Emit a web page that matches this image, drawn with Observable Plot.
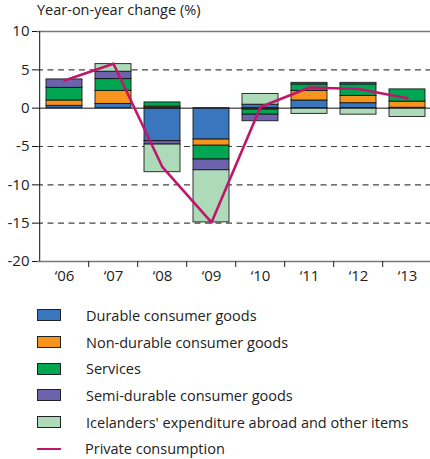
<!DOCTYPE html>
<html>
<head>
<meta charset="utf-8">
<script src="https://cdn.jsdelivr.net/npm/d3@7"></script>
<script src="https://cdn.jsdelivr.net/npm/@observablehq/plot@0.6"></script>
<style>
  html, body { margin: 0; padding: 0; background: #fff; width: 430px; height: 459px; overflow: hidden; }
  body { font-family: "Open Sans", "DejaVu Sans", sans-serif; color: #222; }
  #title { height: 22px; font-size: 14.5px; line-height: 20px; padding-left: 37px; white-space: nowrap; }
  #chart svg { display: block; overflow: visible; }
  #legend { margin-top: 14px; }
  .row { height: 26.7px; display: flex; align-items: center; font-size: 14.5px; white-space: nowrap; }
  .sw { width: 22px; height: 10px; margin-left: 37px; margin-right: 25px; border: 1px solid #222; box-sizing: content-box; }
  .ln { width: 24px; height: 2.5px; margin-left: 37px; margin-right: 24px; }
</style>
</head>
<body>
<div id="title">Year-on-year change (%)</div>
<div id="chart"></div>
<div id="legend"></div>
<script>
const years = ["2006", "2007", "2008", "2009", "2010", "2011", "2012", "2013"];
const seriesNames = [
  "Durable consumer goods",
  "Non-durable consumer goods",
  "Services",
  "Semi-durable consumer goods",
  "Icelanders' expenditure abroad and other items"
];
const seriesColors = ["#3a76bd", "#f7941d", "#00a651", "#6c63ac", "#addbb9"];
const durable      = [0.3, 0.55, -4.3, -4.1, 0.45, 1.0, 0.65, 0.05];
const nonDurable   = [0.7, 1.7, 0.2, -0.8, -0.2, 1.25, 0.95, 0.8];
const services     = [1.65, 1.55, 0.55, -1.8, -0.65, 0.85, 1.5, 1.6];
const semiDurable  = [1.1, 0.95, -0.45, -1.4, -0.85, 0.2, 0.2, 0];
const icelanders   = [0, 1.0, -3.6, -6.8, 1.4, -0.75, -0.85, -1.15];
const privateConsumption = [3.6, 5.8, -7.7, -14.9, 0.15, 2.7, 2.5, 1.3];
const lineName = "Private consumption";
const lineColor = "#c0166c";
const yTicks = [10, 5, 0, -5, -10, -15, -20];
const gridDashed = [5, -5, -10, -15];

const seriesValues = [durable, nonDurable, services, semiDurable, icelanders];
const rows = [];
seriesNames.forEach((name, i) => {
  years.forEach((yr, j) => rows.push({year: yr, series: name, value: seriesValues[i][j]}));
});
const lineRows = years.map((yr, j) => ({year: yr, value: privateConsumption[j]}));

const xRange = [37, 434];
const step = (xRange[1] - xRange[0]) / years.length;

const plot = Plot.plot({
  width: 430,
  height: 266,
  marginTop: 9,
  marginBottom: 27,
  marginLeft: 37,
  marginRight: 0,
  style: {fontFamily: "'Open Sans', sans-serif", fontSize: "14px", color: "#222", background: "transparent"},
  x: {domain: years, range: xRange, paddingInner: 0.27, paddingOuter: 0.135, label: null},
  y: {domain: [-20, 10], label: null},
  color: {domain: seriesNames, range: seriesColors},
  marks: [
    Plot.ruleY(gridDashed, {stroke: "#444", strokeWidth: 1.2, strokeDasharray: "6,4.5"}),
    Plot.ruleY([10, -20], {stroke: "#777", strokeWidth: 1.5}),
    Plot.barY(rows, {x: "year", y: "value", fill: "series", stroke: "#111", strokeWidth: 1, strokeOpacity: 0.85}),
    Plot.ruleY([0], {stroke: "#111", strokeWidth: 1}),
    Plot.line(lineRows, {x: "year", y: "value", stroke: lineColor, strokeWidth: 2.6}),
    Plot.ruleX([years[0]], {dx: -step / 2, y1: -20, y2: 10, stroke: "#111", strokeWidth: 1}),
    Plot.axisY({ticks: yTicks, tickSize: 5, tickPadding: 3, tickFormat: d => String(d), stroke: "#111", fontSize: 15, label: null}),
    Plot.axisX(years.slice(1), {tickSize: 6, text: null, dx: -step / 2, stroke: "#222", label: null}),
    Plot.axisX({tickSize: 0, tickPadding: 9, tickFormat: d => "\u2018" + d.slice(2), fontSize: 15, label: null})
  ]
});
document.getElementById("chart").appendChild(plot);

const legend = document.getElementById("legend");
seriesNames.forEach((name, i) => {
  const r = document.createElement("div");
  r.className = "row";
  const s = document.createElement("div");
  s.className = "sw";
  s.style.background = seriesColors[i];
  const t = document.createElement("span");
  t.textContent = name;
  r.appendChild(s); r.appendChild(t);
  legend.appendChild(r);
});
{
  const r = document.createElement("div");
  r.className = "row";
  const s = document.createElement("div");
  s.className = "ln";
  s.style.background = lineColor;
  const t = document.createElement("span");
  t.textContent = lineName;
  r.appendChild(s); r.appendChild(t);
  legend.appendChild(r);
}
</script>
</body>
</html>
